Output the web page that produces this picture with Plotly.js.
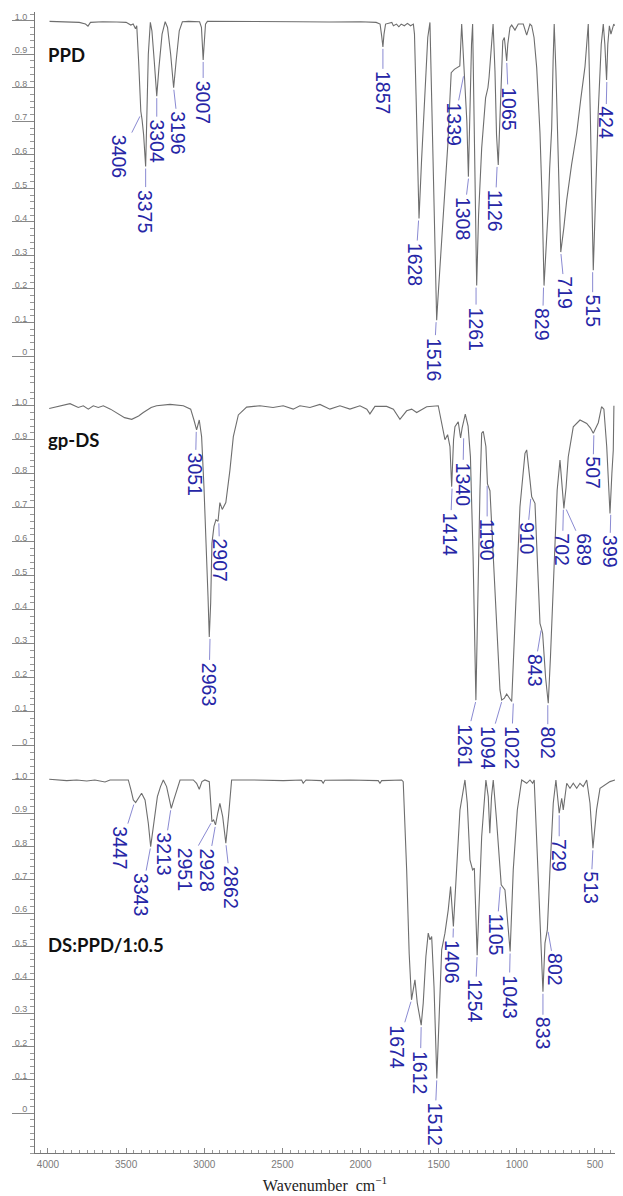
<!DOCTYPE html>
<html><head><meta charset="utf-8">
<script src="https://cdn.plot.ly/plotly-3.0.1.min.js"></script>
<style>html,body{margin:0;padding:0;background:#fff}#chart{width:623px;height:1196px}</style>
</head><body><div id="chart"></div>
<script>
// ---------------- DATA ----------------
const panelNames = ['PPD', 'gp-DS', 'DS:PPD/1:0.5'];

const wnPPD = [3990,3900,3800,3760,3744,3728,3650,3560,3500,3470,3455,3440,3432,3420,3412,3406,3398,3388,3375,3368,3358,3345,3335,3320,3304,3290,3270,3250,3235,3215,3196,3180,3160,3140,3100,3030,3018,3010,3007,3002,2992,2980,2800,2600,2500,2400,2200,2000,1900,1875,1865,1857,1850,1840,1800,1790,1770,1755,1740,1720,1700,1680,1662,1655,1645,1635,1626,1610,1590,1570,1556,1545,1535,1525,1513,1505,1490,1465,1441,1430,1420,1400,1365,1353,1340,1332,1320,1310,1300,1290,1283,1275,1265,1257,1245,1225,1200,1185,1178,1165,1152,1140,1130,1119,1105,1090,1080,1070,1065,1058,1044,1033,1012,991,959,937,916,905,890,873,852,838,826,812,799,790,777,768,761,750,735,725,719,700,681,650,617,590,564,553,543,530,520,511,498,480,460,447,437,426,418,408,398,390,380,374];
const tPPD = [0.998,0.997,0.995,0.99,0.984,0.995,0.997,0.996,0.995,0.987,0.99,0.976,0.985,0.88,0.78,0.73,0.705,0.66,0.565,0.70,0.90,0.995,0.97,0.88,0.775,0.86,0.96,0.997,0.98,0.90,0.80,0.88,0.97,0.997,0.998,0.997,0.98,0.91,0.883,0.92,0.99,0.998,0.997,0.998,0.996,0.997,0.996,0.997,0.995,0.99,0.955,0.922,0.96,0.99,0.995,0.985,0.99,0.982,0.99,0.985,0.992,0.985,0.99,0.96,0.78,0.56,0.41,0.58,0.79,0.95,0.995,0.77,0.56,0.36,0.107,0.17,0.28,0.45,0.635,0.75,0.845,0.855,0.865,0.99,0.88,0.84,0.70,0.535,0.75,0.93,0.99,0.75,0.40,0.21,0.42,0.62,0.77,0.80,0.83,0.92,0.99,0.85,0.66,0.57,0.77,0.94,0.95,0.90,0.88,0.93,0.98,0.987,0.972,0.99,0.99,0.957,0.99,0.985,0.95,0.86,0.665,0.46,0.21,0.33,0.44,0.56,0.68,0.88,0.99,0.85,0.55,0.38,0.31,0.38,0.465,0.57,0.665,0.77,0.863,0.93,0.99,0.72,0.45,0.256,0.45,0.72,0.93,0.99,0.93,0.823,0.93,0.985,0.96,0.975,0.99,0.985];

const wnDS = [3992,3923,3859,3806,3774,3742,3710,3678,3646,3600,3560,3510,3464,3420,3390,3340,3305,3219,3134,3087,3066,3049,3032,3017,3002,2989,2976,2968,2959,2951,2938,2925,2912,2900,2885,2862,2836,2814,2782,2729,2644,2560,2495,2431,2388,2324,2260,2196,2132,2068,2004,1960,1940,1908,1833,1790,1748,1705,1673,1641,1577,1503,1481,1460,1443,1428,1417,1405,1396,1375,1360,1350,1330,1312,1297,1280,1262,1247,1236,1225,1215,1198,1188,1172,1140,1108,1097,1080,1065,1050,1033,1012,980,948,937,916,905,884,852,843,835,816,799,785,767,742,724,707,699,685,671,639,596,553,530,511,492,479,458,443,425,415,404,392,383,379];
const tDS = [0.992,1.0,1.006,0.995,1.0,0.99,1.0,0.995,1.0,0.99,0.98,0.965,0.96,0.97,0.98,0.995,1.0,1.004,1.0,0.99,0.958,0.929,0.958,0.909,0.762,0.615,0.438,0.32,0.42,0.595,0.645,0.665,0.66,0.715,0.695,0.715,0.81,0.909,0.973,0.996,1.0,0.995,1.0,0.99,1.0,0.995,1.004,0.99,1.0,0.99,1.0,0.99,0.976,0.998,0.998,0.99,0.96,0.985,0.99,0.98,0.997,1.0,0.948,0.90,0.915,0.88,0.762,0.90,0.938,0.953,0.905,0.935,0.975,0.94,0.85,0.556,0.134,0.556,0.75,0.919,0.925,0.88,0.77,0.75,0.458,0.164,0.134,0.14,0.152,0.14,0.13,0.36,0.703,0.86,0.87,0.781,0.732,0.713,0.36,0.345,0.33,0.2,0.125,0.26,0.458,0.752,0.84,0.732,0.698,0.76,0.85,0.938,0.958,0.948,0.935,0.919,0.935,0.95,0.997,0.99,0.88,0.78,0.683,0.80,0.87,1.0];

const wnMix = [3992,3880,3816,3752,3700,3667,3635,3603,3530,3486,3469,3454,3439,3422,3401,3379,3358,3343,3325,3300,3280,3262,3241,3225,3211,3195,3181,3155,3070,3049,3032,3015,2996,2968,2957,2951,2940,2928,2914,2900,2882,2862,2845,2825,2687,2494,2377,2367,2349,2250,2239,2228,2068,1887,1876,1865,1737,1727,1705,1689,1674,1652,1637,1612,1599,1582,1567,1556,1545,1530,1512,1496,1481,1460,1439,1424,1406,1400,1385,1364,1332,1317,1300,1283,1272,1254,1225,1198,1183,1173,1162,1151,1130,1108,1100,1076,1058,1043,1023,997,969,937,916,899,889,873,852,833,820,805,788,767,750,729,713,703,681,660,639,617,596,575,553,532,513,490,468,436,404,372];
const tMix = [1.002,0.998,1.0,0.997,1.0,0.998,0.994,1.0,0.999,1.0,0.97,0.94,0.932,0.945,0.96,0.94,0.87,0.80,0.87,0.95,0.98,1.0,0.98,0.94,0.915,0.94,0.96,1.0,1.0,0.99,0.972,0.995,1.0,0.995,0.92,0.875,0.88,0.865,0.90,0.93,0.89,0.81,0.89,1.0,1.0,0.998,1.0,0.99,1.0,0.998,0.99,0.999,1.0,0.998,0.99,0.998,1.0,0.995,0.73,0.48,0.34,0.40,0.33,0.264,0.33,0.47,0.54,0.52,0.53,0.38,0.104,0.33,0.49,0.54,0.61,0.68,0.56,0.61,0.73,0.91,1.0,0.93,0.76,0.73,0.735,0.474,0.83,1.0,0.95,0.84,0.95,1.0,0.88,0.73,0.685,0.67,0.58,0.485,0.73,0.91,1.0,0.99,1.0,0.99,1.0,0.83,0.58,0.364,0.51,0.55,0.73,0.93,1.0,0.90,0.945,0.91,0.99,0.975,0.99,0.975,0.99,0.98,1.0,0.93,0.795,0.91,0.975,0.985,0.995,1.0];

// peak labels: wavenumber text, transmittance at the labelled point
const peaksPPD  = ['3406','3375','3304','3196','3007','1857','1628','1516','1339','1308','1261','1126','1065','829','719','515','424'];
const peakTPPD  = [0.72,0.565,0.775,0.80,0.883,0.922,0.41,0.107,0.84,0.535,0.21,0.57,0.88,0.21,0.31,0.256,0.823];
const peaksDS   = ['3051','2963','2907','1414','1340','1261','1190','1094','1022','910','843','802','702','689','507','399'];
const peakTDS   = [0.929,0.32,0.66,0.762,0.91,0.134,0.77,0.134,0.13,0.732,0.345,0.125,0.70,0.70,0.919,0.685];
const peaksMix  = ['3447','3343','3213','2951','2928','2862','1674','1612','1512','1406','1254','1105','1043','833','802','729','513'];
const peakTMix  = [0.932,0.80,0.915,0.875,0.865,0.81,0.34,0.264,0.104,0.56,0.474,0.685,0.485,0.364,0.55,0.90,0.795];

const xTickVals = [4000,3500,3000,2500,2000,1500,1000,500];
const xTickText = ['4000','3500','3000','2500','2000','1500','1000','500'];
const yTickVals = [0,0.1,0.2,0.3,0.4,0.5,0.6,0.7,0.8,0.9,1.0];
const yTickText = ['0','0.1','0.2','0.3','0.4','0.5','0.6','0.7','0.8','0.9','1.0'];

// ---------------- STYLE / LAYOUT ----------------
// label offsets (px) of text centre relative to the labelled point
const offPPD = [[-21,42],[0,45],[0,45],[5,45],[0,42],[0,46],[-3,46],[-2,39],[-10,50],[-5,42],[0,43],[-2,46],[2,48],[-1,39],[4,41],[0,41],[-1,43]];
const offDS  = [[-1,44],[-1,47],[1,39],[-2,48],[-1,48],[-11,45],[0,56],[-14,48],[-2,46],[-4,42],[-7,42],[0,40],[-1,42],[19,42],[-1,40],[-1,39]];
const offMix = [[-14,45],[-9,48],[-7,46],[-27,48],[-8,45],[5,44],[-14,47],[-1,47],[-2,46],[-1,35],[-2,46],[-4,50],[-1,45],[0,42],[7,40],[0,42],[-2,40]];

const lineColor = '#6e6e6e';
const labelBlue = '#2626a6';
const leaderBlue = '#8a8ad2';
const tickGray = '#7a7a7a';

const traces = [
  {x: wnPPD, y: tPPD, xaxis: 'x', yaxis: 'y', name: panelNames[0]},
  {x: wnDS, y: tDS, xaxis: 'x', yaxis: 'y2', name: panelNames[1]},
  {x: wnMix, y: tMix, xaxis: 'x', yaxis: 'y3', name: panelNames[2]}
].map(t => Object.assign(t, {type: 'scatter', mode: 'lines', line: {color: lineColor, width: 1.1}, hoverinfo: 'skip', showlegend: false}));

function yax(domain, range) {
  return {
    domain: domain, range: range, anchor: 'x', showgrid: false, zeroline: false,
    showline: true, linecolor: '#777', linewidth: 1,
    ticks: 'outside', ticklen: 22, tickwidth: 1, tickcolor: '#888',
    tickmode: 'array', tickvals: yTickVals, ticktext: yTickText,
    tickfont: {family: 'Liberation Sans, Arial, sans-serif', size: 9, color: tickGray},
    ticklabelstandoff: -17, ticklabelshift: -4,
    minor: {dtick: 0.02, tick0: 0, ticks: 'outside', ticklen: 4, tickwidth: 1, tickcolor: '#999'},
    fixedrange: true
  };
}

const annotations = [];
function addPeaks(yref, labels, tvals, offs) {
  labels.forEach((lab, i) => {
    annotations.push({
      x: +lab, y: tvals[i], xref: 'x', yref: yref, text: lab, textangle: 90,
      showarrow: true, arrowhead: 0, arrowwidth: 1, arrowcolor: leaderBlue, standoff: 2,
      ax: offs[i][0], ay: offs[i][1], borderpad: 2,
      font: {family: 'Liberation Sans, Arial, sans-serif', size: 19.5, color: labelBlue}
    });
  });
}
addPeaks('y', peaksPPD, peakTPPD, offPPD);
addPeaks('y2', peaksDS, peakTDS, offDS);
addPeaks('y3', peaksMix, peakTMix, offMix);

const nameRefs = [['y domain', 0.885], ['y2 domain', 0.858], ['y3 domain', 0.537]];
panelNames.forEach((nm, i) => {
  annotations.push({
    text: nm, xref: 'paper', x: 0.019, xanchor: 'left', yref: nameRefs[i][0], y: nameRefs[i][1], yanchor: 'middle',
    showarrow: false, font: {family: 'Lato, Open Sans, sans-serif', size: 18.5, color: '#111', weight: 'bold'}
  });
});

const layout = {
  width: 623, height: 1196,
  margin: {l: 35, r: 8, t: 12, b: 43},
  paper_bgcolor: '#fff', plot_bgcolor: '#fff',
  showlegend: false,
  xaxis: {
    domain: [0, 1], range: [4083, 372], anchor: 'y3', showgrid: false, zeroline: false,
    showline: true, linecolor: '#777', linewidth: 1,
    ticks: 'inside', ticklen: 5, tickcolor: '#888', tickwidth: 1,
    tickmode: 'array', tickvals: xTickVals, ticktext: xTickText,
    tickfont: {family: 'Liberation Sans, Arial, sans-serif', size: 10, color: tickGray},
    ticklabelstandoff: 2,
    minor: {dtick: 50, tick0: 0, ticks: 'inside', ticklen: 3, tickcolor: '#999', tickwidth: 1},
    title: {text: 'Wavenumber\u00a0 cm<sup>\u22121</sup>', standoff: 10,
            font: {family: 'Liberation Serif, Times New Roman, serif', size: 16, color: '#222'}},
    fixedrange: true
  },
  yaxis: yax([0.6722, 1], [-0.0895, 1.026]),
  yaxis2: yax([0.3392, 0.6722], [-0.0597, 1.058]),
  yaxis3: yax([0, 0.3392], [-0.120, 1.042]),
  annotations: annotations
};

Plotly.newPlot('chart', traces, layout, {staticPlot: true, displayModeBar: false});
</script></body></html>
